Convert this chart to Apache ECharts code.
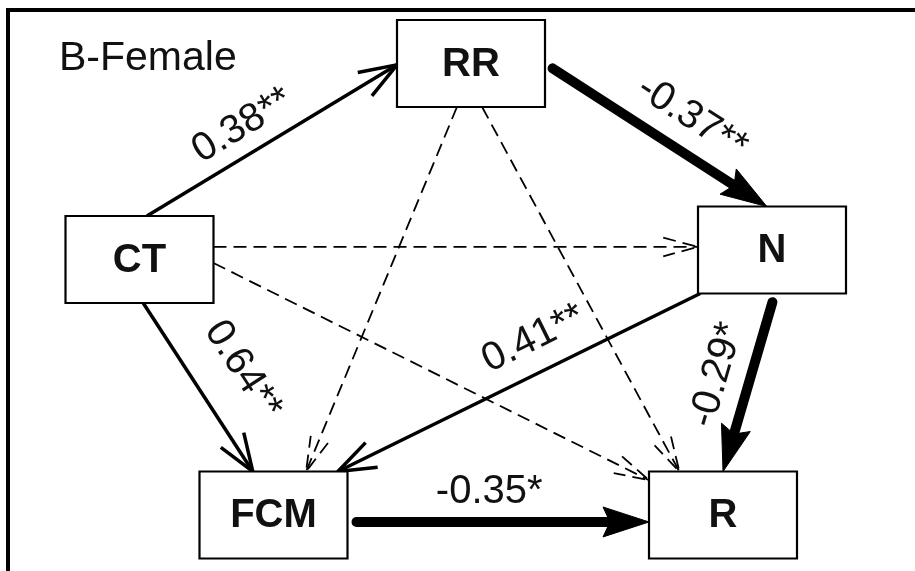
<!DOCTYPE html>
<html>
<head>
<meta charset="utf-8">
<script src="https://cdn.jsdelivr.net/npm/echarts@6/dist/echarts.min.js"></script>
<style>
  html, body { margin: 0; padding: 0; background: #fff; }
  #chart { width: 915px; height: 571px; }
</style>
</head>
<body>
<div id="chart"></div>
<script>
// Path model (female group): standardized path coefficients between five variables
const panelTitle = 'B-Female';

// variables and their box centres in diagram units
const nodeNames = ['CT', 'RR', 'N', 'FCM', 'R'];
const nodeX = [139.5, 471, 772, 273.5, 723];
const nodeY = [259.5, 63.5, 250, 515, 515];

// paths: source, target, coefficient (null = not significant) and significance stars
const edgeFrom = ['CT', 'RR', 'CT', 'CT', 'CT', 'RR', 'RR', 'N', 'N', 'FCM'];
const edgeTo   = ['RR', 'N', 'N', 'FCM', 'R', 'FCM', 'R', 'FCM', 'R', 'R'];
const edgeCoef = [0.38, -0.37, null, 0.64, null, null, null, 0.41, -0.29, -0.35];
const edgeSig  = ['**', '**', '', '**', '', '', '', '**', '*', '*'];

// ---- layout ----
const BOX_W = 148, BOX_H = 87;
const HALF_W = BOX_W / 2, HALF_H = BOX_H / 2;
// where each path leaves / meets a box, as fractions of the half width / half height
const startAnchor = [[0.1, -1], [1, 0], [1, -0.29], [0.05, 1], [1, 0.08], [-0.19, 1], [0.15, 1], [-0.97, 1], [0.04, 1], [1, 0.16]];
const endAnchor   = [[-1, 0.03], [-0.07, -1], [-1, -0.07], [-0.28, -1], [-1, -0.8], [0.44, -1], [-0.59, -1], [0.87, -1], [0, -1], [-1, 0.16]];
// coefficient label: fraction along the path, offset along the path's normal
const labelPlace  = [[0.44, -28], [0.58, -34], null, [0.55, -47], null, null, null, [0.42, 33], [0.51, 33], [0.47, -30]];

const FONT = '"Liberation Sans", Arial, Helvetica, sans-serif';
const INK = '#000';
const STYLE = {
  ns:  { width: 1.8, dash: [13, 7], head: 'open',   len: 36, ang: 15 * Math.PI / 180, gap: 0 },
  pos: { width: 3.5, dash: null,    head: 'open',   len: 40, ang: 20 * Math.PI / 180, gap: 0 },
  neg: { width: 10,  dash: null,    head: 'filled', len: 46, half: 15, notch: 7, gap: 9 }
};

function kindOf(c) { return c == null ? 'ns' : (c < 0 ? 'neg' : 'pos'); }

function renderEdge(params, api) {
  const i = api.value(0);
  const a = nodeNames.indexOf(edgeFrom[i]);
  const b = nodeNames.indexOf(edgeTo[i]);
  const p0 = api.coord([nodeX[a] + startAnchor[i][0] * HALF_W, nodeY[a] + startAnchor[i][1] * HALF_H]);
  const p1 = api.coord([nodeX[b] + endAnchor[i][0] * HALF_W, nodeY[b] + endAnchor[i][1] * HALF_H]);
  const dx = p1[0] - p0[0], dy = p1[1] - p0[1];
  const L = Math.hypot(dx, dy);
  const ux = dx / L, uy = dy / L;
  const nx = -uy, ny = ux;
  const st = STYLE[kindOf(edgeCoef[i])];
  const children = [];

  const s = [p0[0] + ux * st.gap, p0[1] + uy * st.gap];
  if (st.head === 'filled') {
    const back = [p1[0] - ux * st.len, p1[1] - uy * st.len];
    const notch = [p1[0] - ux * (st.len - st.notch), p1[1] - uy * (st.len - st.notch)];
    children.push({
      type: 'line',
      shape: { x1: s[0], y1: s[1], x2: notch[0], y2: notch[1] },
      style: { stroke: INK, lineWidth: st.width, lineCap: 'round' }
    });
    children.push({
      type: 'polygon',
      shape: { points: [
        [p1[0], p1[1]],
        [back[0] + nx * st.half, back[1] + ny * st.half],
        notch,
        [back[0] - nx * st.half, back[1] - ny * st.half]
      ] },
      style: { fill: INK, stroke: INK, lineWidth: 1, lineJoin: 'round' }
    });
  } else {
    children.push({
      type: 'line',
      shape: { x1: s[0], y1: s[1], x2: p1[0], y2: p1[1] },
      style: { stroke: INK, lineWidth: st.width, lineDash: st.dash, lineCap: 'butt' }
    });
    const c = Math.cos(st.ang), sn = Math.sin(st.ang);
    const bx = -ux, by = -uy;
    const arm1 = [p1[0] + st.len * (bx * c - by * sn), p1[1] + st.len * (bx * sn + by * c)];
    const arm2 = [p1[0] + st.len * (bx * c + by * sn), p1[1] + st.len * (-bx * sn + by * c)];
    children.push({
      type: 'polyline',
      shape: { points: [arm1, [p1[0], p1[1]], arm2] },
      style: { stroke: INK, fill: null, lineWidth: st.width, lineDash: st.dash, lineJoin: 'miter' }
    });
  }

  if (edgeCoef[i] != null && labelPlace[i]) {
    const t = labelPlace[i][0], off = labelPlace[i][1];
    const cx = p0[0] + dx * t + nx * off;
    const cy = p0[1] + dy * t + ny * off;
    let rot = -Math.atan2(dy, dx);
    if (rot > Math.PI / 2) rot -= Math.PI;
    if (rot <= -Math.PI / 2) rot += Math.PI;
    children.push({
      type: 'text',
      x: cx, y: cy, rotation: rot,
      style: {
        text: edgeCoef[i].toFixed(2) + edgeSig[i],
        fill: '#111', fontSize: 40, fontFamily: FONT,
        align: 'center', verticalAlign: 'middle',
        textAlign: 'center', textVerticalAlign: 'middle'
      }
    });
  }
  return { type: 'group', children: children };
}

function renderNode(params, api) {
  const i = api.value(0);
  const tl = api.coord([nodeX[i] - HALF_W, nodeY[i] - HALF_H]);
  const br = api.coord([nodeX[i] + HALF_W, nodeY[i] + HALF_H]);
  const c = api.coord([nodeX[i], nodeY[i]]);
  return {
    type: 'group',
    children: [
      { type: 'rect', shape: { x: tl[0], y: tl[1], width: br[0] - tl[0], height: br[1] - tl[1] },
        style: { fill: '#fff', stroke: INK, lineWidth: 2.2 } },
      { type: 'text', x: c[0], y: c[1] + 1,
        style: { text: nodeNames[i], fill: '#111', fontSize: 40, fontWeight: 'bold', fontFamily: FONT,
                 align: 'center', verticalAlign: 'middle', textAlign: 'center', textVerticalAlign: 'middle' } }
    ]
  };
}

const chart = echarts.init(document.getElementById('chart'), null, { renderer: 'canvas' });
chart.setOption({
  animation: false,
  backgroundColor: '#fff',
  title: {
    text: panelTitle, left: 59, top: 38, padding: 0,
    textStyle: { fontSize: 41, fontWeight: 'normal', color: '#111', fontFamily: FONT }
  },
  grid: {
    left: 8, top: 10, width: 1000, height: 700,
    outerBoundsMode: 'none', containLabel: false,
    show: true, borderColor: INK, borderWidth: 4, backgroundColor: 'transparent'
  },
  xAxis: { type: 'value', min: 8, max: 1008, show: false },
  yAxis: { type: 'value', min: 10, max: 710, inverse: true, show: false },
  series: [
    {
      type: 'custom', name: 'paths', z: 2, silent: true,
      renderItem: renderEdge,
      data: edgeFrom.map(function (_, i) { return [i]; })
    },
    {
      type: 'custom', name: 'variables', z: 3, silent: true,
      renderItem: renderNode,
      data: nodeNames.map(function (_, i) { return [i]; })
    }
  ]
});
</script>
</body>
</html>
